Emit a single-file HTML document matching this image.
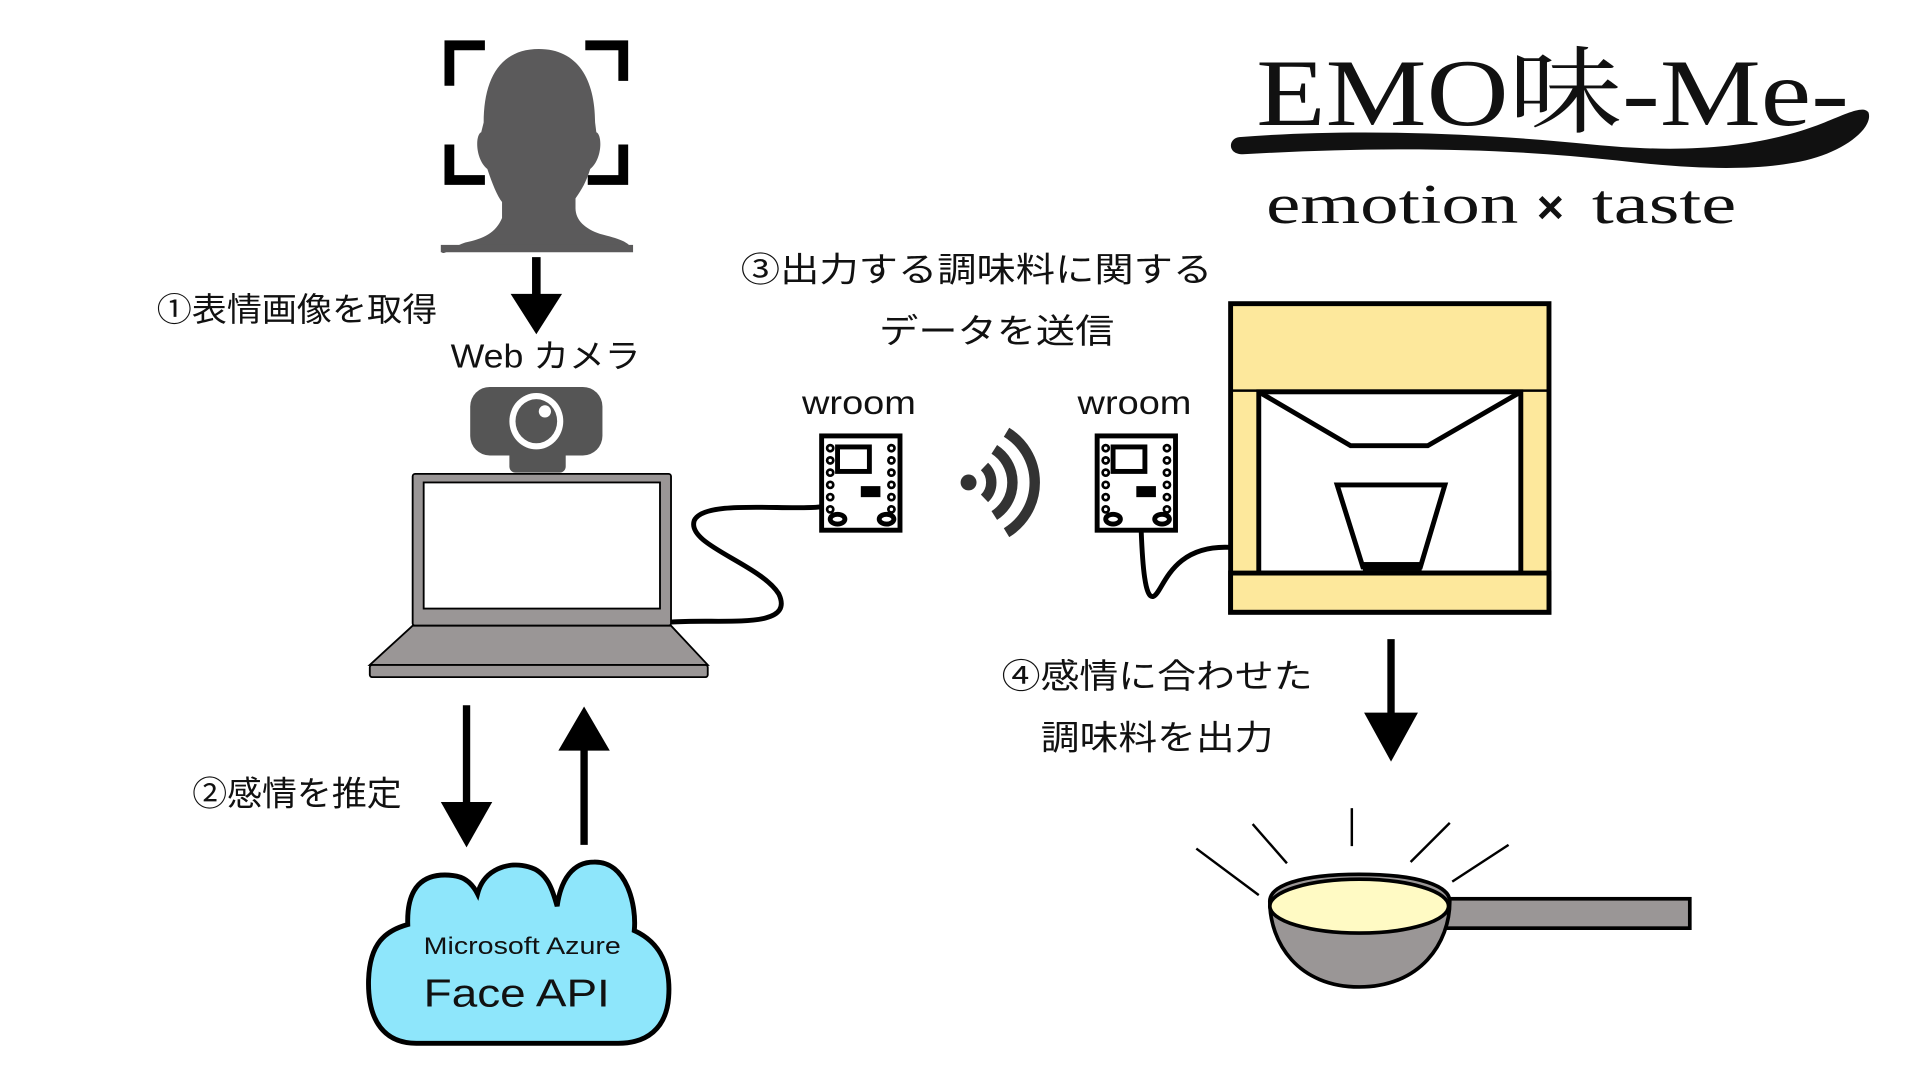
<!DOCTYPE html>
<html><head><meta charset="utf-8"><style>html,body{margin:0;padding:0;background:#fff;}svg{display:block}</style></head>
<body>
<svg width="1920" height="1080" viewBox="0 0 1568 882" xmlns="http://www.w3.org/2000/svg">
<rect width="1568" height="882" fill="#fff"/>
<g fill="none" stroke="#000" stroke-width="8">
<path d="M396,37 H367 V70"/>
<path d="M478,37 H509 V66"/>
<path d="M367,118 V147 H396"/>
<path d="M509,118 V147 H480"/>
</g>
<g fill="#5b5a5b">
<path d="M440,40 C408,40 395,65 395,100 L393,108 C388,110 388,130 398,138 C402,150 406,160 410,165 L410,178 C405,190 395,195 380,198 C368,202 362,210 360,205 L517,205 C514,197 505,195 490,191 C478,187 470,180 470,170 L470,162 C475,155 479,148 482,138 C492,130 492,110 487,108 L486,100 C486,65 472,40 440,40 Z"/>
<rect x="360" y="200" width="157" height="6"/>
</g>
<line x1="438" y1="210" x2="438" y2="245" stroke="#000" stroke-width="7"/>
<polygon points="417,240 459,240 438,273" fill="#000"/>
<g font-family="'Liberation Sans','Noto Sans CJK JP',sans-serif" fill="#111" lengthAdjust="spacingAndGlyphs">
<text x="128" y="262" font-size="27" textLength="229" lengthAdjust="spacingAndGlyphs">①表情画像を取得</text>
<text x="368" y="300" font-size="27" textLength="155" lengthAdjust="spacingAndGlyphs">Web カメラ</text>
<text x="605" y="230" font-size="28" textLength="385" lengthAdjust="spacingAndGlyphs">③出力する調味料に関する</text>
<text x="718" y="280" font-size="28" textLength="192" lengthAdjust="spacingAndGlyphs">データを送信</text>
<text x="655" y="338" font-size="27" textLength="93" lengthAdjust="spacingAndGlyphs">wroom</text>
<text x="880" y="338" font-size="27" textLength="93" lengthAdjust="spacingAndGlyphs">wroom</text>
<text x="818" y="562" font-size="28" textLength="254" lengthAdjust="spacingAndGlyphs">④感情に合わせた</text>
<text x="850" y="612" font-size="28" textLength="190" lengthAdjust="spacingAndGlyphs">調味料を出力</text>
<text x="157" y="658" font-size="28" textLength="171" lengthAdjust="spacingAndGlyphs">②感情を推定</text>
</g>
<rect x="416" y="365" width="46" height="21" rx="5" fill="#555"/>
<rect x="384" y="316" width="108" height="56" rx="16" fill="#555"/>
<ellipse cx="438" cy="344" rx="22" ry="23" fill="#fff"/>
<ellipse cx="438" cy="344" rx="17" ry="18" fill="#555"/>
<circle cx="445" cy="336" r="5" fill="#fff"/>
<rect x="337" y="387" width="211" height="124" rx="2" fill="#9a9696" stroke="#000" stroke-width="1.5"/>
<rect x="346" y="394" width="193" height="103" fill="#fff" stroke="#000" stroke-width="1.5"/>
<polygon points="337,511 548,511 578,543 302,543" fill="#9a9696" stroke="#000" stroke-width="1.5"/>
<rect x="302" y="543" width="276" height="10" rx="2" fill="#9a9696" stroke="#000" stroke-width="1.5"/>
<path d="M548,508 C590,505 650,515 636,485 C620,460 560,445 567,425 C575,408 640,417 670,414" fill="none" stroke="#000" stroke-width="4"/>
<g transform="translate(669,354)">
<rect x="2" y="2" width="64" height="77" fill="#fff" stroke="#000" stroke-width="4"/>
<rect x="15" y="11" width="26" height="20" fill="#fff" stroke="#000" stroke-width="4"/>
<rect x="34" y="43" width="16" height="9" fill="#000"/>
<g fill="#fff" stroke="#000" stroke-width="2.2">
<circle cx="9" cy="12" r="2.5"/><circle cx="9" cy="22" r="2.5"/><circle cx="9" cy="32" r="2.5"/><circle cx="9" cy="42" r="2.5"/><circle cx="9" cy="52" r="2.5"/><circle cx="9" cy="62" r="2.5"/>
<circle cx="59" cy="12" r="2.5"/><circle cx="59" cy="22" r="2.5"/><circle cx="59" cy="32" r="2.5"/><circle cx="59" cy="42" r="2.5"/><circle cx="59" cy="52" r="2.5"/><circle cx="59" cy="62" r="2.5"/>
</g>
<g fill="#fff" stroke="#000" stroke-width="4">
<ellipse cx="15" cy="70" rx="6" ry="4"/><ellipse cx="55" cy="70" rx="6" ry="4"/>
</g>
</g>
<g transform="translate(894,354)">
<rect x="2" y="2" width="64" height="77" fill="#fff" stroke="#000" stroke-width="4"/>
<rect x="15" y="11" width="26" height="20" fill="#fff" stroke="#000" stroke-width="4"/>
<rect x="34" y="43" width="16" height="9" fill="#000"/>
<g fill="#fff" stroke="#000" stroke-width="2.2">
<circle cx="9" cy="12" r="2.5"/><circle cx="9" cy="22" r="2.5"/><circle cx="9" cy="32" r="2.5"/><circle cx="9" cy="42" r="2.5"/><circle cx="9" cy="52" r="2.5"/><circle cx="9" cy="62" r="2.5"/>
<circle cx="59" cy="12" r="2.5"/><circle cx="59" cy="22" r="2.5"/><circle cx="59" cy="32" r="2.5"/><circle cx="59" cy="42" r="2.5"/><circle cx="59" cy="52" r="2.5"/><circle cx="59" cy="62" r="2.5"/>
</g>
<g fill="#fff" stroke="#000" stroke-width="4">
<ellipse cx="15" cy="70" rx="6" ry="4"/><ellipse cx="55" cy="70" rx="6" ry="4"/>
</g>
</g>
<circle cx="791" cy="394" r="6.5" fill="#333"/>
<g fill="none" stroke="#333" stroke-width="8.5">
<path d="M804,381 A18,18 0 0 1 804,407"/>
<path d="M812,367 A32,32 0 0 1 812,421"/>
<path d="M822,353 A48,48 0 0 1 822,435"/>
</g>
<path d="M932,434 C933,460 935,490 942,487 C950,484 955,445 1004,447" fill="none" stroke="#000" stroke-width="4"/>
<rect x="1005" y="248" width="260" height="252" fill="#fde89c" stroke="#000" stroke-width="4"/>
<line x1="1005" y1="319" x2="1265" y2="319" stroke="#000" stroke-width="2"/>
<rect x="1028" y="320" width="214" height="148" fill="#fff" stroke="#000" stroke-width="4"/>
<rect x="1005" y="468" width="260" height="32" fill="#fde89c" stroke="#000" stroke-width="4"/>
<polyline points="1028,320 1103,364 1166,364 1242,320" fill="none" stroke="#000" stroke-width="4"/>
<polygon points="1092,396 1180,396 1160,463 1113,463" fill="#fff" stroke="#000" stroke-width="4"/>
<rect x="1113" y="459" width="48" height="7" fill="#000"/>
<text x="1026" y="102" font-family="'Liberation Serif','Noto Serif CJK SC',serif" font-size="78" fill="#111" textLength="484" lengthAdjust="spacingAndGlyphs">EMO味-Me-</text>
<path d="M1012,112 C1100,105 1200,108 1300,118 C1380,126 1440,120 1490,100 C1510,92 1522,86 1526,92 C1530,105 1505,125 1470,132 C1430,140 1380,138 1320,131 C1220,120 1120,120 1015,126 C1002,126 1003,113 1012,112 Z" fill="#111"/>
<text x="1034" y="182" font-family="'Liberation Serif',serif" font-size="46" fill="#111" textLength="206" lengthAdjust="spacingAndGlyphs">emotion</text>
<text x="1255" y="182" font-family="'Liberation Sans',sans-serif" font-size="38" font-weight="bold" fill="#111">×</text>
<text x="1300" y="182" font-family="'Liberation Serif',serif" font-size="46" fill="#111" textLength="118" lengthAdjust="spacingAndGlyphs">taste</text>
<line x1="1136" y1="522" x2="1136" y2="585" stroke="#000" stroke-width="6"/>
<polygon points="1114,582 1158,582 1136,622" fill="#000"/>
<line x1="381" y1="576" x2="381" y2="660" stroke="#000" stroke-width="6"/>
<polygon points="360,655 402,655 381,692" fill="#000"/>
<line x1="477" y1="690" x2="477" y2="610" stroke="#000" stroke-width="6"/>
<polygon points="456,613 498,613 477,577" fill="#000"/>
<path d="M340,852 C315,852 300,835 301,800 C302,770 315,760 333,755 C332,725 345,712 370,715 C380,716 386,722 390,730 C395,710 415,703 432,708 C448,712 452,730 455,740 C458,718 468,704 485,704 C512,703 520,740 518,760 C540,770 548,790 546,815 C544,840 528,852 505,852 Z" fill="#8ee6fb" stroke="#000" stroke-width="4"/>
<text x="346" y="779" font-family="'Liberation Sans',sans-serif" font-size="20" fill="#111" textLength="161" lengthAdjust="spacingAndGlyphs">Microsoft Azure</text>
<text x="346" y="822" font-family="'Liberation Sans',sans-serif" font-size="32" fill="#111" textLength="152" lengthAdjust="spacingAndGlyphs">Face API</text>
<g stroke="#000" stroke-width="2">
<line x1="977" y1="693" x2="1028" y2="731"/>
<line x1="1023" y1="673" x2="1051" y2="705"/>
<line x1="1104" y1="660" x2="1104" y2="691"/>
<line x1="1184" y1="672" x2="1152" y2="704"/>
<line x1="1232" y1="690" x2="1186" y2="720"/>
</g>
<rect x="1180" y="734" width="200" height="24" fill="#9a9696" stroke="#000" stroke-width="3"/>
<path d="M1037,736 C1037,770 1060,806 1110,806 C1160,806 1184,770 1184,736 C1184,724 1160,714 1110,714 C1060,714 1037,724 1037,736 Z" fill="#9a9696" stroke="#000" stroke-width="3"/>
<ellipse cx="1110" cy="740" rx="73" ry="22" fill="#fffac4" stroke="#000" stroke-width="3"/>
</svg>
</body></html>
